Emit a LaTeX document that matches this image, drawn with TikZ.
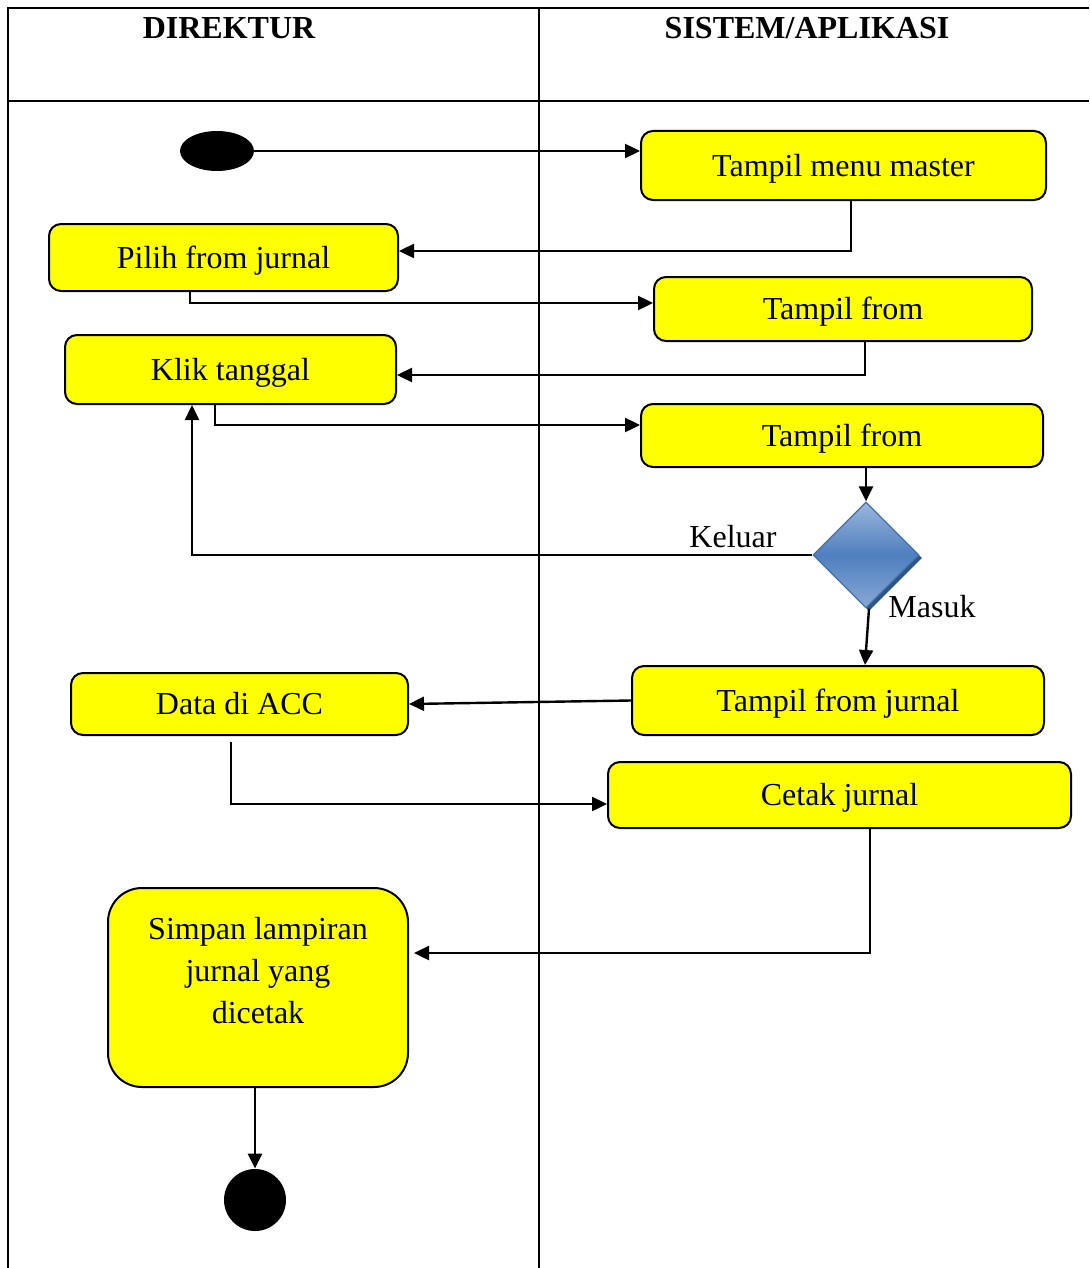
\documentclass[tikz,border=0pt]{standalone}
\usepackage{fontspec}
\setmainfont{Liberation Serif}
\usetikzlibrary{arrows.meta,shapes.geometric,calc}
\definecolor{boxyellow}{HTML}{FFFF00}
\definecolor{dtop}{HTML}{9AB6DC}
\definecolor{dmid}{HTML}{4F7FBE}
\definecolor{dbot}{HTML}{88A8D4}
\definecolor{dedge}{HTML}{4470AA}
\definecolor{dshadow}{HTML}{2E5486}
\begin{document}
\begin{tikzpicture}[x=0.5pt,y=-0.5pt,
  font=\fontsize{16}{21}\selectfont,
  lane/.style={line width=1pt,black},
  actbox/.style={draw=black,line width=1pt,fill=boxyellow,rounded corners=6pt,inner sep=0pt,align=center,text depth=0.5pt},
  bigbox/.style={draw=black,line width=1pt,fill=boxyellow,rounded corners=17pt,inner sep=0pt},
  arr/.style={line width=1.2pt,-{Triangle[length=7.5pt,width=7pt]}},
  lbl/.style={inner sep=0pt}]
\useasboundingbox (0,0) rectangle (1089,1268);

% swimlane frame
\draw[lane] (1089,8) -- (8,8) -- (8,1268);
\draw[lane] (8,101) -- (1089,101);
\draw[lane] (539,8) -- (539,1268);
\node[lbl,font=\fontsize{16}{21}\selectfont\bfseries] (h1) at (229,28) {DIREKTUR};
\node[lbl,font=\fontsize{16}{21}\selectfont\bfseries] (h2) at (807,28) {SISTEM/APLIKASI};

% initial and final states
\node[ellipse,fill=black,minimum width=37pt,minimum height=20pt,inner sep=0pt] (s) at (217,151) {};
\node[circle,fill=black,minimum size=31pt,inner sep=0pt] (e) at (255,1200) {};

% activities
\node[actbox,minimum width=202.5pt,minimum height=34.5pt] (m1) at (843.5,165.5) {Tampil menu master};
\node[actbox,minimum width=174.5pt,minimum height=33.5pt] (a1) at (223.5,257.5) {Pilih from jurnal};
\node[actbox,minimum width=189pt,minimum height=32pt] (m2) at (843,309) {Tampil from};
\node[actbox,minimum width=165.5pt,minimum height=34.5pt] (a2) at (230.5,369.5) {Klik tanggal};
\node[actbox,minimum width=201pt,minimum height=31.5pt] (m3) at (842,435.5) {Tampil from};
\node[actbox,minimum width=206pt,minimum height=34.5pt] (m4) at (838,700.5) {Tampil from jurnal};
\node[actbox,minimum width=168.5pt,minimum height=31pt] (a3) at (239.5,704) {Data di ACC};
\node[actbox,minimum width=231.5pt,minimum height=33pt] (m5) at (839.5,795) {Cetak jurnal};
\node[bigbox,minimum width=150pt,minimum height=99.5pt] (a4) at (258,987.5) {};
\node[lbl,align=center] (a4t) at (258,971) {Simpan lampiran\\jurnal yang\\dicetak};

% decision
\node[diamond,aspect=1,fill=dshadow,minimum width=53pt,minimum height=53pt,inner sep=0pt] (ds) at (869,558) {};
\node[diamond,aspect=1,draw=dedge,line width=0.6pt,top color=dtop,bottom color=dbot,middle color=dmid,minimum width=53pt,minimum height=53pt,inner sep=0pt] (d) at (866,555) {};
\node[lbl] (kel) at (733,537) {Keluar};
\node[lbl] (mas) at (932,607) {Masuk};

% flows
\draw[arr] (s.east) -- (s.east -| m1.west);
\draw[arr] ([xshift=3.75pt]m1.south) |- ([yshift=3.25pt]a1.east);
\draw[arr] ([xshift=-16.75pt]a1.south) |- ([yshift=3pt]m2.west);
\draw[arr] ([xshift=11pt]m2.south) |- ([yshift=-2.75pt]a2.east);
\draw[arr] ([xshift=-7.75pt]a2.south) |- ([yshift=5.25pt]m3.west);
\draw[arr] (d.north |- m3.south) -- (d.north);
\draw[arr] (d.west) -| ([xshift=-19.25pt]a2.south);
\draw[arr] ([xshift=1.5pt]d.south) -- ([xshift=-0.5pt]d.south |- m4.north);
\draw[arr] (m4.west) -- (a3.east);
\draw[arr] ([xshift=-4.25pt,yshift=-3pt]a3.south) |- ([yshift=-4.5pt]m5.west);
\draw[arr] ([xshift=15.25pt]m5.south) |- ([xshift=2.5pt,yshift=17.25pt]a4.east);
\draw[arr] (a4.south -| e.north) -- (e.north);
\end{tikzpicture}
\end{document}
